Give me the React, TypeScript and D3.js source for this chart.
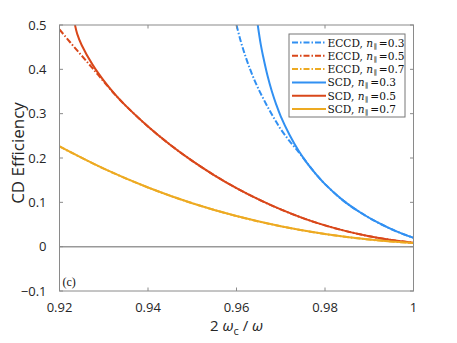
import React, { useEffect, useRef } from "react"
import * as d3 from "d3"

// frequency ratio 2 wc / w
const xTicks = [0.92, 0.94, 0.96, 0.98, 1]
const yTicks = [-0.1, 0, 0.1, 0.2, 0.3, 0.4, 0.5]

// [2wc/w, efficiency]
const scd03 = [
  [0.9648, 0.5], [0.9655, 0.455], [0.966, 0.43], [0.967, 0.386], [0.968, 0.35],
  [0.969, 0.32], [0.97, 0.294], [0.972, 0.252], [0.974, 0.217], [0.976, 0.188],
  [0.978, 0.163], [0.98, 0.141], [0.984, 0.105], [0.988, 0.077], [0.992, 0.054],
  [0.996, 0.035], [1.0, 0.02],
]
const eccd03 = [
  [0.96, 0.5], [0.961, 0.462], [0.962, 0.43], [0.963, 0.402], [0.964, 0.377],
  [0.965, 0.355], [0.966, 0.335], [0.967, 0.316], [0.968, 0.298], [0.969, 0.281],
  [0.97, 0.265], [0.972, 0.238], [0.974, 0.214], [0.976, 0.188], [0.978, 0.163],
  [0.98, 0.141], [0.984, 0.105], [0.988, 0.077], [0.992, 0.054], [0.996, 0.035],
  [1.0, 0.02],
]
const scd05 = [
  [0.9235, 0.5], [0.924, 0.48], [0.925, 0.455], [0.9275, 0.41], [0.93, 0.3745],
  [0.9325, 0.344], [0.935, 0.3175], [0.94, 0.271], [0.945, 0.23], [0.95, 0.1935],
  [0.955, 0.161], [0.96, 0.132], [0.965, 0.1065], [0.97, 0.084], [0.975, 0.0645],
  [0.98, 0.048], [0.985, 0.0345], [0.99, 0.0235], [0.995, 0.015], [1.0, 0.009],
]
const eccd05 = [
  [0.92, 0.49], [0.9225, 0.46], [0.925, 0.431], [0.9275, 0.402], [0.93, 0.3725],
  [0.9325, 0.3435], [0.935, 0.3175], [0.94, 0.271], [0.945, 0.23], [0.95, 0.1935],
  [0.955, 0.161], [0.96, 0.132], [0.965, 0.1065], [0.97, 0.084], [0.975, 0.0645],
  [0.98, 0.048], [0.985, 0.0345], [0.99, 0.0235], [0.995, 0.015], [1.0, 0.009],
]
const scd07 = [
  [0.92, 0.226], [0.93, 0.176], [0.94, 0.1335], [0.95, 0.098], [0.96, 0.069],
  [0.97, 0.046], [0.98, 0.0285], [0.99, 0.016], [1.0, 0.008],
]
const eccd07 = [
  [0.92, 0.226], [0.93, 0.176], [0.94, 0.1335], [0.95, 0.098], [0.96, 0.069],
  [0.97, 0.046], [0.98, 0.0285], [0.99, 0.016], [1.0, 0.008],
]

const series = [
  { name: "ECCD", n: "0.3", data: eccd03, color: "#3190f2", dash: "6,2,1.5,2" },
  { name: "ECCD", n: "0.5", data: eccd05, color: "#d9471a", dash: "6,2,1.5,2" },
  { name: "ECCD", n: "0.7", data: eccd07, color: "#edaa22", dash: "6,2,1.5,2" },
  { name: "SCD", n: "0.3", data: scd03, color: "#3190f2", dash: null },
  { name: "SCD", n: "0.5", data: scd05, color: "#d9471a", dash: null },
  { name: "SCD", n: "0.7", data: scd07, color: "#edaa22", dash: null },
]

const W = 457
const H = 343
const margin = { left: 59.5, right: 43.5, top: 25, bottom: 52 }

export default function App() {
  const ref = useRef<SVGSVGElement>(null)

  useEffect(() => {
    const svg = d3.select(ref.current)
    svg.selectAll("*").remove()

    const x = d3.scaleLinear().domain([0.92, 1]).range([margin.left, W - margin.right])
    const y = d3.scaleLinear().domain([-0.1, 0.5]).range([H - margin.bottom, margin.top])
    const [x0, x1] = x.range()
    const [y0, y1] = y.range()
    const axisColor = "#8a8a8a"
    const sans = "'Open Sans', sans-serif"
    const serif = "'DejaVu Serif', serif"

    svg.append("clipPath").attr("id", "plot-clip")
      .append("rect").attr("x", x0).attr("y", y1).attr("width", x1 - x0).attr("height", y0 - y1)

    // zero line
    svg.append("line")
      .attr("x1", x0).attr("x2", x1).attr("y1", y(0)).attr("y2", y(0))
      .attr("stroke", "#999").attr("stroke-width", 1.5)

    const line = d3.line<number[]>()
      .x(d => x(d[0]))
      .y(d => y(d[1]))
      .curve(d3.curveCatmullRom.alpha(0.5))

    const curves = svg.append("g").attr("clip-path", "url(#plot-clip)")
    series.forEach(s => {
      curves.append("path")
        .attr("d", line(s.data))
        .attr("fill", "none")
        .attr("stroke", s.color)
        .attr("stroke-width", 2)
        .attr("stroke-dasharray", s.dash)
    })

    // box with inward ticks
    svg.append("rect")
      .attr("x", x0).attr("y", y1).attr("width", x1 - x0).attr("height", y0 - y1)
      .attr("fill", "none").attr("stroke", axisColor).attr("stroke-width", 1)

    const tl = 3.5
    xTicks.forEach(t => {
      svg.append("line").attr("x1", x(t)).attr("x2", x(t)).attr("y1", y0).attr("y2", y0 - tl)
        .attr("stroke", axisColor)
      svg.append("line").attr("x1", x(t)).attr("x2", x(t)).attr("y1", y1).attr("y2", y1 + tl)
        .attr("stroke", axisColor)
      svg.append("text")
        .attr("x", x(t)).attr("y", y0 + 20.5)
        .attr("text-anchor", "middle")
        .attr("font-family", sans).attr("font-size", 13).attr("fill", "#262626")
        .text(d3.format("~g")(t))
    })
    yTicks.forEach(t => {
      svg.append("line").attr("x1", x0).attr("x2", x0 + tl).attr("y1", y(t)).attr("y2", y(t))
        .attr("stroke", axisColor)
      svg.append("line").attr("x1", x1).attr("x2", x1 - tl).attr("y1", y(t)).attr("y2", y(t))
        .attr("stroke", axisColor)
      svg.append("text")
        .attr("x", x0 - 13).attr("y", y(t) + 4.5)
        .attr("text-anchor", "end")
        .attr("font-family", sans).attr("font-size", 13).attr("fill", "#262626")
        .text(d3.format("~g")(t))
    })

    // axis labels
    svg.append("text")
      .attr("transform", `translate(24,${(y0 + y1) / 2 - 5}) rotate(-90)`)
      .attr("text-anchor", "middle")
      .attr("font-family", sans).attr("font-size", 17).attr("fill", "#262626")
      .text("CD Efficiency")

    const xl = svg.append("text")
      .attr("x", (x0 + x1) / 2).attr("y", 331)
      .attr("text-anchor", "middle")
      .attr("font-family", sans).attr("font-size", 15).attr("fill", "#262626")
    xl.append("tspan").text("2 ")
    xl.append("tspan").attr("font-style", "italic").text("ω")
    xl.append("tspan").attr("font-size", 11).attr("dy", 4).text("c")
    xl.append("tspan").attr("dy", -4).text(" / ")
    xl.append("tspan").attr("font-style", "italic").text("ω")

    svg.append("text")
      .attr("x", x0 + 3).attr("y", y0 - 5)
      .attr("font-family", "'Liberation Serif', serif").attr("font-size", 12).attr("fill", "#111")
      .text("(c)")

    // legend
    const lg = svg.append("g").attr("transform", "translate(289,34)")
    lg.append("rect").attr("width", 116).attr("height", 83)
      .attr("fill", "#fff").attr("stroke", "#777").attr("stroke-width", 1)
    series.forEach((s, i) => {
      const ly = 8.5 + i * 13.3
      lg.append("line").attr("x1", 3).attr("x2", 37).attr("y1", ly).attr("y2", ly)
        .attr("stroke", s.color).attr("stroke-width", 2).attr("stroke-dasharray", s.dash)
      const t = lg.append("text")
        .attr("x", 38.5).attr("y", ly + 4)
        .attr("font-family", serif).attr("font-size", 10.6).attr("fill", "#111")
      t.append("tspan").text(`${s.name}, `)
      t.append("tspan").attr("font-style", "italic").text("n")
      t.append("tspan").attr("font-size", 7).attr("dy", 2).attr("dx", 0.5).text("∥")
      t.append("tspan").attr("dy", -2).attr("dx", 2).text(`=${s.n}`)
    })
  }, [])

  return (
    <svg
      ref={ref}
      width={W}
      height={H}
      style={{ position: "absolute", left: 0, top: 0, background: "#fff" }}
    />
  )
}
